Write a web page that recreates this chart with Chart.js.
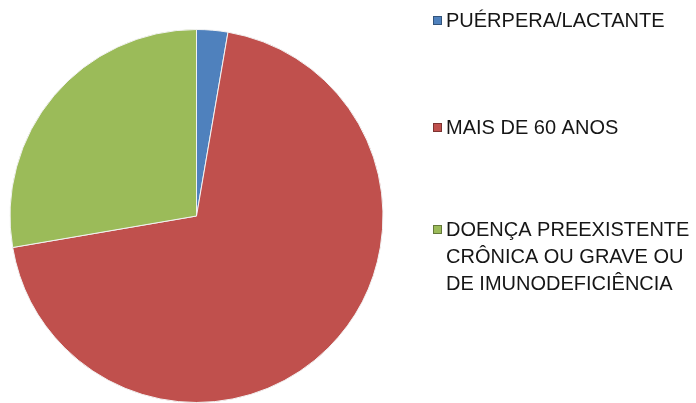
<!DOCTYPE html>
<html>
<head>
<meta charset="utf-8">
<script src="https://cdn.jsdelivr.net/npm/chart.js@4.4.1/dist/chart.umd.min.js"></script>
<style>
  html, body { margin: 0; padding: 0; background: #fff; }
  #wrap { width: 696px; height: 403px; position: relative; }
</style>
</head>
<body>
<div id="wrap"><canvas id="pie" width="696" height="403"></canvas></div>
<script>
// legend lines per category (wrapped as in the source)
const categories = [
  ['PUÉRPERA/LACTANTE'],
  ['MAIS DE 60 ANOS'],
  ['DOENÇA PREEXISTENTE', 'CRÔNICA OU GRAVE OU', 'DE IMUNODEFICIÊNCIA']
]
const shares = [2.7, 69.6, 27.7]
const colors = ['#4f81bd', '#c0504d', '#9bbb59']

// legend y (center of first line) for each entry
const legendY = [20, 127, 229]
const lineGap = 27

const sideLegend = {
  id: 'sideLegend',
  afterDraw (chart) {
    const ctx = chart.ctx
    const ds = chart.data.datasets[0]
    ctx.save()
    ctx.font = '20px "Liberation Sans", Arial, sans-serif'
    ctx.textBaseline = 'middle'
    chart.data.labels.forEach((lines, i) => {
      const y = legendY[i]
      ctx.fillStyle = ds.backgroundColor[i]
      ctx.fillRect(433, y - 4, 9, 9)
      ctx.strokeStyle = 'rgba(0,0,0,0.35)'
      ctx.lineWidth = 1
      ctx.strokeRect(433.5, y - 3.5, 8, 8)
      ctx.fillStyle = '#161616'
      lines.forEach((t, j) => ctx.fillText(t, 446, y + j * lineGap + 1))
    })
    ctx.restore()
  }
}

new Chart(document.getElementById('pie').getContext('2d'), {
  type: 'pie',
  data: {
    labels: categories,
    datasets: [{
      data: shares,
      backgroundColor: colors,
      borderColor: '#f2f2f2',
      borderWidth: 1
    }]
  },
  options: {
    responsive: false,
    animation: false,
    layout: { padding: { left: 9, top: 29, right: 312, bottom: 0 } },
    plugins: {
      legend: { display: false },
      tooltip: { enabled: false },
      title: { display: false }
    }
  },
  plugins: [sideLegend]
})
</script>
</body>
</html>
